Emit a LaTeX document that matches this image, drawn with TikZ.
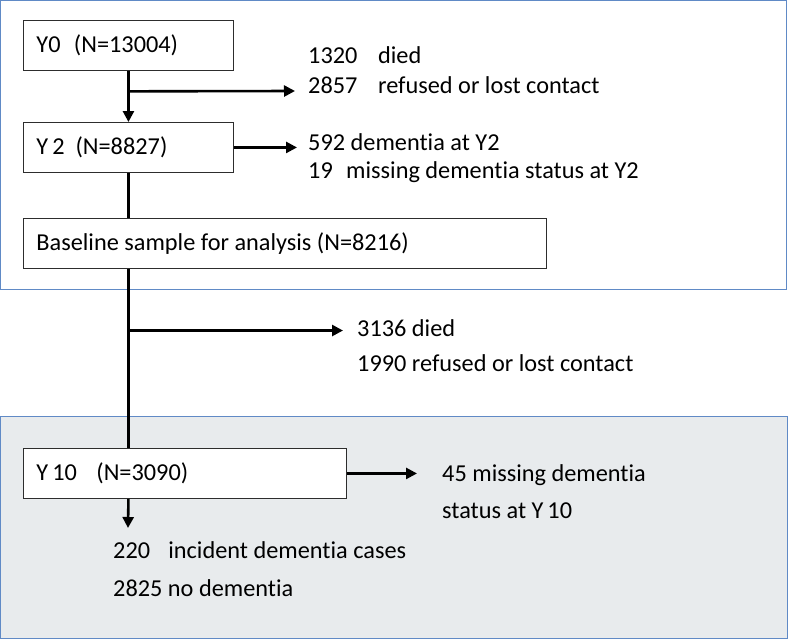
\documentclass[tikz,border=0pt]{standalone}
\usepackage{fontspec}
\setmainfont{Carlito}[Ligatures=NoCommon]
\usetikzlibrary{calc,arrows.meta}

\definecolor{frameblue}{RGB}{96,138,198}
\definecolor{panelgray}{RGB}{232,235,237}
\definecolor{boxline}{RGB}{45,45,45}

\tikzset{
	stagebox/.style={draw=boxline, fill=white, line width=0.9pt, anchor=north west,
		inner xsep=13pt, inner ysep=0pt, minimum height=50pt, align=flush left,
		font=\fontsize{24.3}{29}\selectfont},
	note/.style={anchor=base west, inner sep=0pt, font=\fontsize{24.3}{29}\selectfont},
	flowline/.style={line width=2.6pt},
	flow/.style={line width=2.6pt, -{Triangle[length=11pt,width=11pt]}},
}

\begin{document}
\begin{tikzpicture}[x=1pt,y=-1pt]
	\def\gap{0.4}	%where the side arrows leave the spine (fraction of the way down)
	\useasboundingbox (0,0) rectangle (788,640);
	
	%panels
	\draw[frameblue, line width=0.9pt] (0.5,0.5) rectangle (786,289);
	\filldraw[fill=panelgray, draw=frameblue, line width=0.9pt] (0.5,416) rectangle (787,638.5);
	
	%stages
	\node[stagebox, text width=184pt] (y0) at (23,20) {Y0\hspace{0.55em}(N=13004)};
	\node[stagebox, text width=184pt] (y2) at (23,122) {Y\,2\hspace{0.45em}(N=8827)};
	\node[stagebox, text width=497pt] (base) at (23,218) {Baseline sample for analysis (N=8216)};
	\node[stagebox, text width=297pt] (y10) at (23,448) {Y\,10\hspace{0.8em}(N=3090)};
	
	%exclusions
	\node[note] (died0) at (308,63) {1320\hspace{0.85em}died};
	\node[note] (lost0) at (308,93) {2857\hspace{0.85em}refused or lost contact};
	\node[note] (dem2) at (308,150) {592 dementia at Y2};
	\node[note] (miss2) at (308,178) {19\hspace{0.55em}missing dementia status at Y2};
	\node[note] (died8) at (357,336) {3136 died};
	\node[note] (lost8) at (357,371) {1990 refused or lost contact};
	\node[note] (miss10) at (442,481) {45 missing dementia};
	\node[note] (stat10) at (442,518) {status at Y\,10};
	\node[note] (inc10) at (113,558) {220\hspace{0.75em}incident dementia cases};
	\node[note] (nodem10) at (113,596) {2825 no dementia};
	
	%arrow ends
	\coordinate (fork0) at ($(y0.south)!\gap!(y2.north)$);
	\coordinate (out0) at (295,91);
	\coordinate (out2) at (297,0 |- y2.east);
	\coordinate (fork8) at ($(y2.south |- base.south)!0.344!(y2.south |- y10.north)$);
	\coordinate (out8) at (343,0 |- fork8);
	\coordinate (out10) at (417,0 |- y10.east);
	\coordinate (end10) at (128,528);
	
	%spine
	\draw[flow] (y0.south) -- (y2.north);
	\draw[flowline] (y2.south) -- (y2.south |- base.north);
	\draw[flowline] (y2.south |- base.south) -- (y2.south |- y10.north);
	\draw[flow] (y2.south |- y10.south) -- (end10);
	
	%side arrows
	\draw[flow] (fork0) -- (out0);
	\draw[flow] (y2.east) -- (out2);
	\draw[flow] (fork8) -- (out8);
	\draw[flow] (y10.east) -- (out10);
\end{tikzpicture}
\end{document}
